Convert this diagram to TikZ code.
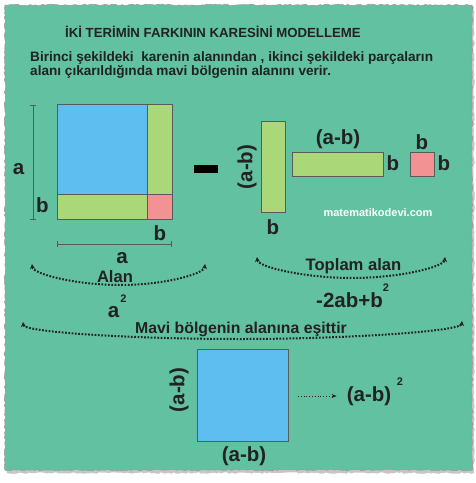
\documentclass[tikz,border=0pt]{standalone}
\usepackage{fontspec}
\setmainfont{Liberation Sans}
\usetikzlibrary{arrows.meta, positioning, decorations.pathmorphing}
\definecolor{panelgreen}{RGB}{98,193,160}
\definecolor{sqblue}{RGB}{94,190,240}
\definecolor{stripgreen}{RGB}{170,216,120}
\definecolor{sqpink}{RGB}{242,146,146}
\definecolor{ink}{RGB}{34,34,34}
\definecolor{edgegray}{RGB}{90,90,90}
\tikzstyle{piece} = [rectangle, draw=edgegray, line width=0.7pt, inner sep=0pt,
    outer sep=0pt, anchor=north west]
\tikzstyle{bluepiece} = [piece, fill=sqblue]
\tikzstyle{greenpiece} = [piece, fill=stripgreen]
\tikzstyle{pinkpiece} = [piece, fill=sqpink]
\tikzstyle{lbl} = [inner sep=0pt, text=ink, font=\fontsize{20.5}{21}\selectfont\bfseries]
\tikzstyle{supnum} = [inner sep=0pt, text=ink, font=\fontsize{11}{11}\selectfont\bfseries]
\tikzstyle{note} = [inner sep=0pt, anchor=base, text=ink,
    font=\fontsize{16.6}{17}\selectfont\bfseries]
\tikzstyle{dimline} = [edgegray, line width=0.7pt, {Bar[width=6pt]}-{Bar[width=6pt]}]
\tikzstyle{brace} = [ink, line width=2pt, dash pattern=on 1.7pt off 1.6pt,
    {Stealth[length=5pt,width=5pt]}-{Stealth[length=5pt,width=5pt]}]

\begin{document}
\begin{tikzpicture}[x=1pt, y=-1pt]
            \useasboundingbox (0,0) rectangle (476,483);
            % Panel
            \fill[gray!45, decorate, decoration={random steps, segment length=2.5pt,
            amplitude=0.8pt}] (7,7) -- (474,7) -- (474,473) -- (7,473) -- cycle;
            \draw[edgegray!60, line width=0.6pt, fill=panelgreen, decorate,
            decoration={random steps, segment length=2.5pt, amplitude=0.8pt}]
            (5,5) -- (472,5) -- (472,470) -- (5,470) -- cycle;
            % Texts
            \node[inner sep=0pt, anchor=base west, text=ink, font=\fontsize{13.2}{14}\selectfont\bfseries]
            (title) at (65,37) {İKİ TERİMİN FARKININ KARESİNİ MODELLEME};
            \node[inner sep=0pt, anchor=base west, text=ink, font=\fontsize{13.6}{14}\selectfont\bfseries]
            (line1) at (30,61) {Birinci şekildeki \ karenin alanından , ikinci şekildeki parçaların};
            \node[inner sep=0pt, anchor=base west, text=ink, font=\fontsize{13.6}{14}\selectfont\bfseries]
            (line2) at (30,75) {alanı çıkarıldığında mavi bölgenin alanını verir.};
            % First square
            \node[bluepiece, minimum width=90pt, minimum height=90pt] (blueA) at (57,104) {};
            \node[greenpiece, minimum width=25pt, minimum height=90pt] (rightA) at (147,104) {};
            \node[greenpiece, minimum width=90pt, minimum height=25pt] (bottomA) at (57,194) {};
            \node[pinkpiece, minimum width=25pt, minimum height=25pt] (pinkA) at (147,194) {};
            \coordinate (vtop) at (33,105);
            \coordinate (vbot) at (33,220);
            \coordinate (hleft) at (57,244);
            \coordinate (hright) at (172,244);
            \draw[dimline] (vtop) -- (vbot);
            \draw[dimline] (hleft) -- (hright);
            \node[lbl] (sideA) at (18.5,169) {a};
            \node[lbl] (sideB) at (42.5,205.5) {b};
            \node[lbl] (lowB) at (160,233) {b};
            \node[lbl] (lowA) at (122,258) {a};
            % Minus
            \node[fill=black, inner sep=0pt, minimum width=24pt, minimum height=8pt]
            (minus) at (206,169) {};
            % Pieces
            \node[greenpiece, minimum width=24pt, minimum height=91pt] (vstrip) at (261,121) {};
            \node[greenpiece, minimum width=91pt, minimum height=24pt] (hstrip) at (292,152) {};
            \node[pinkpiece, minimum width=24pt, minimum height=24pt] (pinkB) at (410,152) {};
            \node[lbl, rotate=90] (vstripL) at (247,167) {(a-b)};
            \node[lbl] (vstripB) at (273,227) {b};
            \node[lbl] (hstripT) at (338,139) {(a-b)};
            \node[lbl] (hstripB) at (393,163) {b};
            \node[lbl] (pinkT) at (422,142) {b};
            \node[lbl] (pinkR) at (444,163) {b};
            \node[inner sep=0pt, text=white, font=\fontsize{11}{11}\selectfont\bfseries]
            (site) at (378,213) {matematikodevi.com};
            % Braces
            \coordinate (alanL) at (32,264);
            \coordinate (alanM) at (120,285);
            \coordinate (alanR) at (205,264);
            \coordinate (toplamL) at (257,257);
            \coordinate (toplamM) at (352,278);
            \coordinate (toplamR) at (445,257);
            \coordinate (maviL) at (23,322);
            \coordinate (maviM) at (240,339);
            \coordinate (maviR) at (462,321);
            \draw[brace] (alanL) .. controls (33,274) and (76,285) .. (alanM)
            .. controls (164,285) and (204,274) .. (alanR);
            \draw[brace] (toplamL) .. controls (258,267) and (305,278) .. (toplamM)
            .. controls (399,278) and (444,267) .. (toplamR);
            \draw[brace] (maviL) .. controls (24,332) and (130,339) .. (maviM)
            .. controls (350,339) and (461,331) .. (maviR);
            \node[note] (alan) at (115,282) {Alan};
            \node[note] (toplam) at (353.5,270) {Toplam alan};
            \node[note, font=\fontsize{15.8}{16}\selectfont\bfseries] (mavi) at (241,333)
            {Mavi bölgenin alanına eşittir};
            \node[lbl] (asq) at (113.5,312.5) {a};
            \node[supnum] (asqexp) at (123.5,298.5) {2};
            \node[lbl] (rest) at (349.5,300.5) {-2ab+b};
            \node[supnum] (restexp) at (386,287.5) {2};
            % Result square
            \node[bluepiece, minimum width=91pt, minimum height=92pt] (blueB) at (197,349) {};
            \node[lbl, rotate=90] (blueBL) at (179,390) {(a-b)};
            \node[lbl] (blueBB) at (244,456) {(a-b)};
            \node[lbl] (result) at (369,396) {(a-b)};
            \node[supnum] (resultexp) at (400,381.5) {2};
            \draw[ink, dotted, line width=0.8pt, -{Stealth[length=5pt,width=4pt]}]
            ([xshift=10pt]blueB.east |- result.west) -- ([xshift=-10pt]result.west);
\end{tikzpicture}
\end{document}
